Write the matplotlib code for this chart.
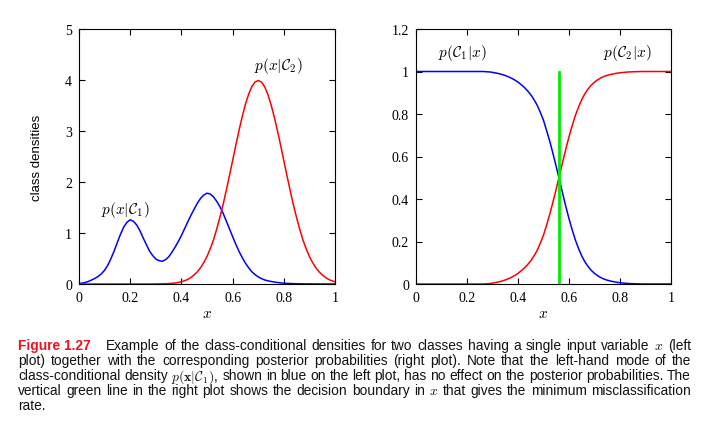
import numpy as np
import matplotlib
matplotlib.use("Agg")
import matplotlib.pyplot as plt
from matplotlib.ticker import FuncFormatter

plt.rcParams["mathtext.fontset"] = "cm"
plt.rcParams["font.family"] = ["Liberation Serif", "DejaVu Serif"]

x_vals = np.linspace(0, 1, 81)

# left plot: class-conditional densities (8 samples per 0.1 in x, plus x=1)
dens_c1 = [0.01, 0.018, 0.03, 0.052, 0.08, 0.11, 0.15, 0.20,
           0.27, 0.37, 0.50, 0.65, 0.82, 0.98, 1.12, 1.21,
           1.26, 1.23, 1.16, 1.05, 0.91, 0.78, 0.65, 0.56,
           0.49, 0.458, 0.445, 0.475, 0.53, 0.62, 0.72, 0.83,
           0.95, 1.085, 1.22, 1.35, 1.47, 1.585, 1.68, 1.745,
           1.78, 1.765, 1.71, 1.625, 1.52, 1.39, 1.24, 1.085,
           0.93, 0.78, 0.64, 0.52, 0.41, 0.32, 0.24, 0.185,
           0.14, 0.107, 0.08, 0.063, 0.05, 0.039, 0.03, 0.022,
           0.015, 0.012, 0.01, 0.007, 0.005, 0.004, 0.003, 0.002,
           0.002, 0.001, 0.001, 0.001, 0, 0, 0, 0,
           0]
dens_c2 = [0, 0, 0, 0, 0, 0, 0, 0,
           0, 0, 0, 0, 0, 0, 0, 0,
           0, 0, 0, 0, 0, 0, 0, 0.001,
           0.001, 0.002, 0.004, 0.006, 0.009, 0.013, 0.02, 0.030,
           0.044, 0.064, 0.09, 0.13, 0.18, 0.24, 0.32, 0.42,
           0.54, 0.69, 0.86, 1.07, 1.30, 1.55, 1.83, 2.12,
           2.42, 2.72, 3.01, 3.28, 3.52, 3.72, 3.87, 3.96,
           3.99, 3.96, 3.87, 3.72, 3.52, 3.28, 3.01, 2.72,
           2.42, 2.12, 1.83, 1.55, 1.30, 1.07, 0.86, 0.69,
           0.54, 0.42, 0.32, 0.24, 0.18, 0.13, 0.09, 0.064,
           0.044]

# right plot: posterior probabilities
post_c1 = [1, 1, 1, 1, 1, 1, 1, 1,
           1, 1, 1, 1, 1, 1, 1, 1,
           1, 1, 1, 1, 1, 1, 0.999, 0.998,
           0.996, 0.993, 0.990, 0.986, 0.981, 0.975, 0.968, 0.960,
           0.950, 0.938, 0.925, 0.909, 0.891, 0.868, 0.842, 0.808,
           0.770, 0.721, 0.670, 0.612, 0.552, 0.490, 0.427, 0.365,
           0.307, 0.255, 0.207, 0.167, 0.132, 0.104, 0.082, 0.064,
           0.050, 0.039, 0.030, 0.023, 0.018, 0.014, 0.011, 0.008,
           0.006, 0.0045, 0.003, 0.002, 0.0015, 0.001, 0.0005, 0,
           0, 0, 0, 0, 0, 0, 0, 0,
           0]
post_c2 = [0, 0, 0, 0, 0, 0, 0, 0,
           0, 0, 0, 0, 0, 0, 0, 0,
           0, 0, 0, 0, 0, 0, 0.001, 0.002,
           0.004, 0.007, 0.010, 0.014, 0.019, 0.025, 0.032, 0.040,
           0.050, 0.062, 0.075, 0.091, 0.109, 0.132, 0.158, 0.192,
           0.230, 0.279, 0.330, 0.388, 0.448, 0.510, 0.573, 0.635,
           0.693, 0.745, 0.793, 0.833, 0.868, 0.896, 0.918, 0.936,
           0.950, 0.961, 0.970, 0.977, 0.982, 0.986, 0.989, 0.992,
           0.994, 0.9955, 0.997, 0.998, 0.9985, 0.999, 0.9995, 1,
           1, 1, 1, 1, 1, 1, 1, 1,
           1]
boundary_x = 0.56

x_ticks = [0, 0.2, 0.4, 0.6, 0.8, 1]
left_yticks = [0, 1, 2, 3, 4, 5]
right_yticks = [0, 0.2, 0.4, 0.6, 0.8, 1.0, 1.2]

caption_lines = [
    "Example of the class-conditional densities for two classes having a single input variable $x$ (left",
    "plot) together with the corresponding posterior probabilities (right plot).  Note that the left-hand mode of the",
    r"class-conditional density $p(\mathbf{x}|\mathcal{C}_1)$, shown in blue on the left plot, has no effect on the posterior probabilities. The",
    "vertical green line in the right plot shows the decision boundary in $x$ that gives the minimum misclassification",
    "rate.",
]

W, H = 721, 427
fig = plt.figure(figsize=(W / 100, H / 100), dpi=100)


def px_axes(l, t, r, b):
    return fig.add_axes([l / W, 1 - b / H, (r - l) / W, (b - t) / H])


fmt = FuncFormatter(lambda v, p: "%g" % v)

ax1 = px_axes(79, 30, 335, 285)
ax1.plot(x_vals, dens_c1, color="blue", lw=1.1)
ax1.plot(x_vals, dens_c2, color="red", lw=1.1)
ax1.set_xlim(0, 1)
ax1.set_ylim(0, 5)
ax1.set_yticks(left_yticks)
ax1.text(0.18, 1.47, r"$p(x|\mathcal{C}_1)$", ha="center", va="center", fontsize=11)
ax1.text(0.78, 4.3, r"$p(x|\mathcal{C}_2)$", ha="center", va="center", fontsize=11)
ax1.set_ylabel("class densities", family=["Liberation Sans", "DejaVu Sans"], fontsize=9.5)
ax1.yaxis.set_label_coords(-0.14, 0.5)

ax2 = px_axes(416, 30, 671, 285)
ax2.plot(x_vals, post_c1, color="blue", lw=1.1)
ax2.plot(x_vals, post_c2, color="red", lw=1.1)
ax2.plot([boundary_x, boundary_x], [0, 1], color="#00ee00", lw=2)
ax2.set_xlim(0, 1)
ax2.set_ylim(0, 1.2)
ax2.set_yticks(right_yticks)
ax2.text(0.18, 1.093, r"$p(\mathcal{C}_1|x)$", ha="center", va="center", fontsize=11)
ax2.text(0.83, 1.093, r"$p(\mathcal{C}_2|x)$", ha="center", va="center", fontsize=11)

for ax in (ax1, ax2):
    ax.set_xticks(x_ticks)
    ax.xaxis.set_major_formatter(fmt)
    ax.yaxis.set_major_formatter(fmt)
    ax.tick_params(direction="in", top=True, right=True, length=4, width=0.8,
                   labelsize=10, pad=5)
    for s in ax.spines.values():
        s.set_linewidth(0.8)
    ax.set_xlabel("$x$", fontsize=11, labelpad=2)

# caption, justified line by line
sans = ["Liberation Sans", "DejaVu Sans"]
renderer = fig.canvas.get_renderer()
left_px, right_px, first_px = 18, 691, 106

# pick a size so the tightest line just fits with normal spaces
ratios = []
for i, line in enumerate(caption_lines[:-1]):
    t = fig.text(0, 0, line, fontsize=10, family=sans)
    avail = right_px - (first_px if i == 0 else left_px)
    ratios.append(avail / t.get_window_extent(renderer=renderer).width)
    t.remove()
cap_size = min(10.5, 10 * min(ratios))


def put_line(words, y_px, x0, x1, justify):
    items = []
    for w in words:
        t = fig.text(0, 1 - y_px / H, w, fontsize=cap_size, family=sans,
                     va="baseline", ha="left", color="#111111")
        items.append((t, t.get_window_extent(renderer=renderer).width))
    total = sum(w for _, w in items)
    if justify and len(items) > 1:
        gap = (x1 - x0 - total) / (len(items) - 1)
    else:
        gap = cap_size * 0.28 * 100 / 72
    x = x0
    for t, w in items:
        t.set_x(x / W)
        x += w + gap


fig.text(left_px / W, 1 - 350 / H, "Figure 1.27", fontsize=cap_size, family=sans,
         weight="bold", color="#ee1122", va="baseline", ha="left")
for i, line in enumerate(caption_lines):
    y = 350 + 15.1 * i
    x0 = first_px if i == 0 else left_px
    put_line(line.split(), y, x0, right_px, i < len(caption_lines) - 1)

fig.savefig("out.png", dpi=100)
